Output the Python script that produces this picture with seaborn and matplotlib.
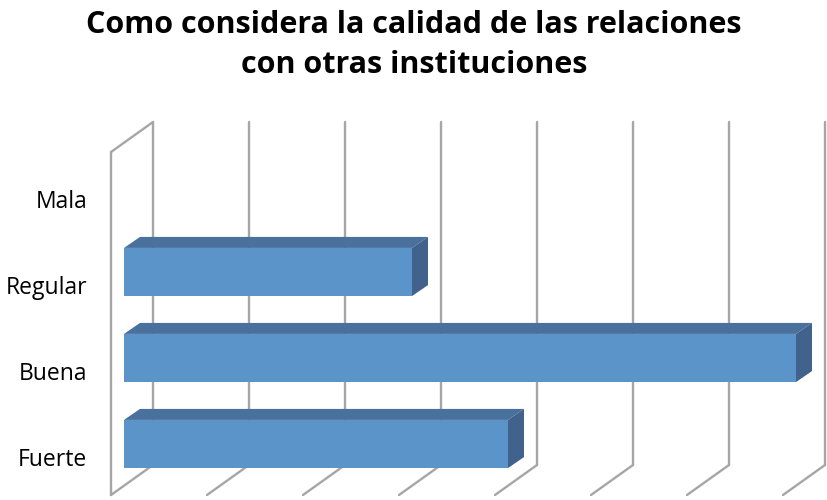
import matplotlib
matplotlib.use('Agg')
import matplotlib.pyplot as plt
import matplotlib.transforms as mtransforms
from matplotlib.patches import Polygon
from matplotlib.lines import Line2D
import seaborn as sns
import pandas as pd

# datos
categorias = ['Mala', 'Regular', 'Buena', 'Fuerte']
respuestas = [0, 3, 7, 4]
escala = list(range(0, 8))
titulo = 'Como considera la calidad de las relaciones\ncon otras instituciones'

color_frente = '#5b94c9'
color_tapa = '#4a709d'
color_lado = '#41628c'
color_rejilla = '#a6a6a6'

sns.set_style('white')
plt.rcParams['font.family'] = ['Open Sans', 'DejaVu Sans']

fig = plt.figure(figsize=(8.28, 5.0), dpi=100)
ax = fig.add_axes([124 / 828, 13 / 500, 672 / 828, 344 / 500])

df = pd.DataFrame({'categoria': categorias, 'n': respuestas})
sns.barplot(data=df, x='n', y='categoria', orient='h', color=color_frente,
            saturation=1, width=0.56, ax=ax, zorder=3, linewidth=0)

ax.set_xlim(0, 7)
ax.set_ylim(3.5, -0.5)
ax.set_xticks([])
ax.set_xlabel('')
ax.set_ylabel('')
for s in ax.spines.values():
    s.set_visible(False)
ax.tick_params(axis='y', length=0, pad=26.6, labelsize=16.5, labelcolor='black')
for lab in ax.get_yticklabels():
    lab.set_transform(lab.get_transform() +
                      mtransforms.ScaledTranslation(0, -13 / 100, fig.dpi_scale_trans))

ident = mtransforms.IdentityTransform()

# profundidad 3D en pixeles (frente -> fondo)
fondo_dx, frente_dx = 29, -13
piso_frente, piso_fondo, techo_fondo, techo_frente = 5, 35, 378, 348

def linea(xs, ys):
    ax.add_line(Line2D(xs, ys, transform=ident, color=color_rejilla,
                       lw=1.7, clip_on=False, zorder=1))

for v in escala:
    xv = ax.transData.transform((v, 0))[0]
    linea([xv + fondo_dx, xv + fondo_dx], [piso_fondo, techo_fondo])
    linea([xv + fondo_dx, xv + frente_dx], [piso_fondo, piso_frente])

x0 = ax.transData.transform((escala[0], 0))[0]
linea([x0 + frente_dx, x0 + frente_dx], [piso_frente, techo_frente])
linea([x0 + frente_dx, x0 + fondo_dx], [techo_frente, techo_fondo])

# caras superior y lateral de cada barra
dx, dy = 16, 11
for p in ax.patches:
    w = p.get_width()
    if w <= 0:
        continue
    (xa, ya), (xb, yb) = ax.transData.transform(
        [(p.get_x(), p.get_y()), (p.get_x() + w, p.get_y() + p.get_height())])
    arriba, abajo = max(ya, yb), min(ya, yb)
    izq, der = xa, xb
    tapa = Polygon([(izq, arriba), (der, arriba), (der + dx, arriba + dy), (izq + dx, arriba + dy)],
                   closed=True, transform=ident, facecolor=color_tapa, edgecolor='none',
                   clip_on=False, zorder=3)
    lado = Polygon([(der, abajo), (der + dx, abajo + dy), (der + dx, arriba + dy), (der, arriba)],
                   closed=True, transform=ident, facecolor=color_lado, edgecolor='none',
                   clip_on=False, zorder=3)
    ax.add_patch(tapa)
    ax.add_patch(lado)

fig.text(0.5, 0.91, titulo, ha='center', va='center', fontsize=22,
         fontweight='bold', linespacing=1.42, color='black')

fig.savefig('out.png', dpi=100)
